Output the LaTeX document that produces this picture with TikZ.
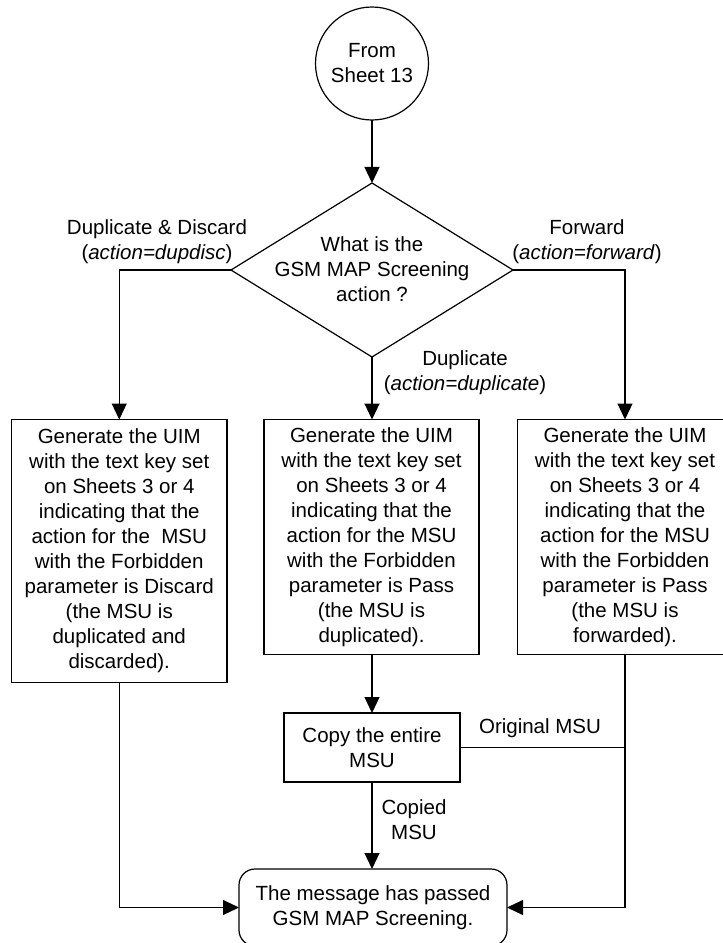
\documentclass[tikz,border=0pt]{standalone}
\usepackage{fontspec}
\setmainfont{Liberation Sans}
\usetikzlibrary{shapes.geometric,arrows.meta}
\begin{document}
\begin{tikzpicture}[x=1pt,y=-1pt,
 every node/.style={font=\fontsize{20.5}{25}\selectfont, align=center, inner sep=0pt, outer sep=0pt},
 shp/.style={draw, line width=1.2pt},
 conn/.style={line width=1.2pt},
 arr/.style={conn, -{Triangle[length=16pt,width=15pt]}},
]
\useasboundingbox (0,0) rectangle (723,943);
\fill[white] (0,0) rectangle (723,943);

\node[shp, circle, minimum size=113pt] (start) at (372,63.5) {From\\Sheet 13};

\node[shp, diamond, minimum width=282pt, minimum height=174pt] (dec) at (372,270) {};
\node (dectext) at (372,269) {What is the\\GSM MAP Screening\\action ?};

\node[shp, rectangle, minimum width=215.5pt, minimum height=263pt] (b1) at (119.25,551)
 {Generate the UIM\\with the text key set\\on Sheets 3 or 4\\indicating that the\\action for the \ MSU\\with the Forbidden\\parameter is Discard\\(the MSU is\\duplicated and\\discarded).};
\node[shp, rectangle, minimum width=215pt, minimum height=235pt] (b2) at (371.5,537)
 {Generate the UIM\\with the text key set\\on Sheets 3 or 4\\indicating that the\\action for the MSU\\with the Forbidden\\parameter is Pass\\(the MSU is\\duplicated).};
\node[shp, rectangle, minimum width=215pt, minimum height=235pt] (b3) at (625,537)
 {Generate the UIM\\with the text key set\\on Sheets 3 or 4\\indicating that the\\action for the MSU\\with the Forbidden\\parameter is Pass\\(the MSU is\\forwarded).};

\node[shp, rectangle, minimum width=176pt, minimum height=69pt] (copy) at (372,747.5) {Copy the entire\\MSU};

\node[shp, rectangle, rounded corners=16pt, minimum width=268pt, minimum height=77pt] (end) at (373,907.5)
 {The message has passed\\GSM MAP Screening.};

% labels
\node (ldd) at (157,241.5) {Duplicate \& Discard\\(\textit{action=dupdisc})};
\node (lfw) at (587,241.5) {Forward\\(\textit{action=forward})};
\node (ldu) at (465,373) {Duplicate\\(\textit{action=duplicate})};
\node (lorig) at (540,728) {Original MSU};
\node (lcop) at (414,820) {Copied\\MSU};

% connectors
\draw[arr] (start) -- (dec);
\draw[arr] (dec.west) -| (b1.north);
\draw[arr] (dec.east) -| (b3.north);
\draw[arr] (dec.south) -- (dec.south |- b2.north);
\draw[arr] (b2.south -| copy.north) -- (copy.north);
\draw[arr] (copy.south) -- (copy.south |- end.north);
\draw[conn] (copy.east) -- (b3.south |- copy.east);
\draw[arr] (b3.south) |- (end.east);
\draw[arr] (b1.south) |- (end.west);
\end{tikzpicture}
\end{document}
